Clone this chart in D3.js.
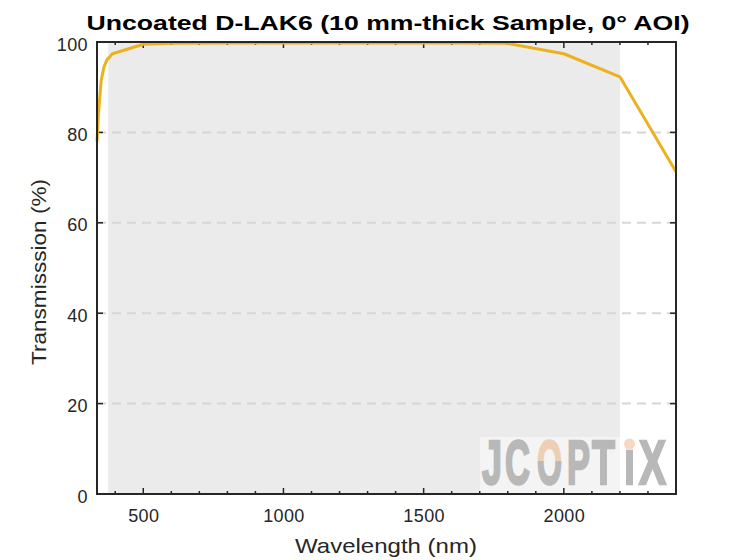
<!DOCTYPE html>
<html><head><meta charset="utf-8">
<script src="https://cdn.jsdelivr.net/npm/d3@7"></script>
<style>body{margin:0;background:#fff}svg{display:block}text{font-family:"Liberation Sans",Arial,sans-serif}</style>
</head><body><div id="chart"></div>
<script>
const wavelengths = [335, 340, 350, 360, 370, 390, 500, 600, 800, 1000, 1200, 1400, 1600, 1800, 2000, 2200, 2400];
const transmission = [78, 84, 91.5, 94.5, 96, 97.4, 99.5, 99.7, 99.8, 99.8, 99.8, 99.8, 99.8, 99.7, 97.4, 92.3, 71.3];
const xTicks = [500, 1000, 1500, 2000];
const yTicks = [0, 20, 40, 60, 80, 100];
const gridValues = [20, 40, 60, 80];
const shadeRange = [375, 2200];
const xDomain = [335, 2400];
const yDomain = [0, 100];
const titleText = "Uncoated D-LAK6 (10 mm-thick Sample, 0° AOI)";
const xLabel = "Wavelength (nm)";
const yLabel = "Transmisssion (%)";
const logoLetters = ["J", "C", "O", "P", "T", "ı", "X"];

const W = 747, H = 560;
const m = {l: 97, r: 71, t: 42, b: 66};
const svg = d3.select("#chart").append("svg").attr("width", W).attr("height", H);
const x = d3.scaleLinear().domain(xDomain).range([m.l, W - m.r]);
const y = d3.scaleLinear().domain(yDomain).range([H - m.b, m.t]);
const defs = svg.append("defs");

// shaded region
svg.append("rect").attr("x", x(shadeRange[0])).attr("y", y(100))
  .attr("width", x(shadeRange[1]) - x(shadeRange[0])).attr("height", y(0) - y(100))
  .attr("fill", "#ebebeb");

// grid
svg.append("g").selectAll("line").data(gridValues).join("line")
  .attr("x1", x(xDomain[0])).attr("x2", x(xDomain[1]))
  .attr("y1", d => y(d)).attr("y2", d => y(d))
  .attr("stroke", "#d6d6d6").attr("stroke-width", 2).attr("stroke-dasharray", "9,6");

// watermark
const wm = svg.append("g");
wm.append("rect").attr("x", 480).attr("y", 437).attr("width", 187).attr("height", 56).attr("fill", "#ffffff").attr("opacity", 0.45);
const og = defs.append("linearGradient").attr("id", "ograd").attr("gradientUnits", "userSpaceOnUse")
  .attr("x1", 0).attr("y1", 437).attr("x2", 0).attr("y2", 485);
og.append("stop").attr("offset", "0.5").attr("stop-color", "#efcfb4");
og.append("stop").attr("offset", "0.5").attr("stop-color", "#b8b8b8");
const slots = [[482, 20], [505, 25], [537, 25], [567, 23], [592, 23], [624, 11], [639, 27]];
logoLetters.forEach((ch, i) => {
  const [lx, lw] = slots[i];
  const g = wm.append("g");
  const col = ch === "O" ? "url(#ograd)" : "#b8b8b8";
  const t = g.append("text").attr("x", 0).attr("y", 484)
    .attr("font-family", "'DejaVu Sans','Liberation Sans',sans-serif")
    .attr("font-weight", "bold").attr("font-size", 63)
    .attr("fill", col).attr("stroke", col).attr("stroke-width", 2.5).text(ch);
  const bb = t.node().getBBox();
  const s = lw / bb.width;
  g.attr("transform", `translate(${lx - bb.x * s},0) scale(${s},1)`);
});
wm.append("circle").attr("cx", 629.5).attr("cy", 444).attr("r", 5.5).attr("fill", "#f6d9c2");

// axes
const minor = d3.range(400, 2401, 100);
const gx = svg.append("g").attr("transform", `translate(0,${y(0)})`)
  .call(d3.axisBottom(x).tickValues(xTicks).tickSize(0).tickPadding(15).tickFormat(d3.format("d")));
const gy = svg.append("g").attr("transform", `translate(${x(xDomain[0])},0)`)
  .call(d3.axisLeft(y).tickValues(yTicks).tickSize(0).tickPadding(9));
[gx, gy].forEach(g => { g.select(".domain").remove(); g.selectAll("text").attr("font-size", 18).attr("fill", "#262626").attr("letter-spacing", "0.4px"); });
gy.selectAll("text").attr("dy", "0.45em");

const tk = svg.append("g").attr("stroke", "#262626").attr("stroke-width", 1.5);
minor.forEach(v => {
  const len = xTicks.includes(v) ? 6 : 3;
  tk.append("line").attr("x1", x(v)).attr("x2", x(v)).attr("y1", y(0)).attr("y2", y(0) - len);
  tk.append("line").attr("x1", x(v)).attr("x2", x(v)).attr("y1", y(100)).attr("y2", y(100) + len);
});
yTicks.forEach(v => {
  tk.append("line").attr("x1", x(xDomain[0])).attr("x2", x(xDomain[0]) + 6).attr("y1", y(v)).attr("y2", y(v));
  tk.append("line").attr("x1", x(xDomain[1])).attr("x2", x(xDomain[1]) - 6).attr("y1", y(v)).attr("y2", y(v));
});

// line
svg.append("path").datum(wavelengths.map((w, i) => [w, transmission[i]]))
  .attr("fill", "none").attr("stroke", "#EDB120").attr("stroke-width", 3).attr("stroke-linejoin", "round")
  .attr("d", d3.line().x(d => x(d[0])).y(d => y(d[1])));

// box
svg.append("rect").attr("x", x(xDomain[0])).attr("y", y(100)).attr("width", x(xDomain[1]) - x(xDomain[0])).attr("height", y(0) - y(100))
  .attr("fill", "none").attr("stroke", "#262626").attr("stroke-width", 2);

// labels
svg.append("text").attr("x", 388).attr("y", 30).attr("text-anchor", "middle")
  .attr("font-size", 21).attr("font-weight", "bold").attr("fill", "#000")
  .attr("textLength", 603).attr("lengthAdjust", "spacingAndGlyphs").text(titleText);
svg.append("text").attr("x", 386).attr("y", 553).attr("text-anchor", "middle")
  .attr("font-size", 21).attr("fill", "#262626")
  .attr("textLength", 182).attr("lengthAdjust", "spacingAndGlyphs").text(xLabel);
svg.append("text").attr("transform", `translate(46,272) rotate(-90)`).attr("text-anchor", "middle")
  .attr("font-size", 21).attr("fill", "#262626")
  .attr("textLength", 186).attr("lengthAdjust", "spacingAndGlyphs").text(yLabel);
</script></body></html>
